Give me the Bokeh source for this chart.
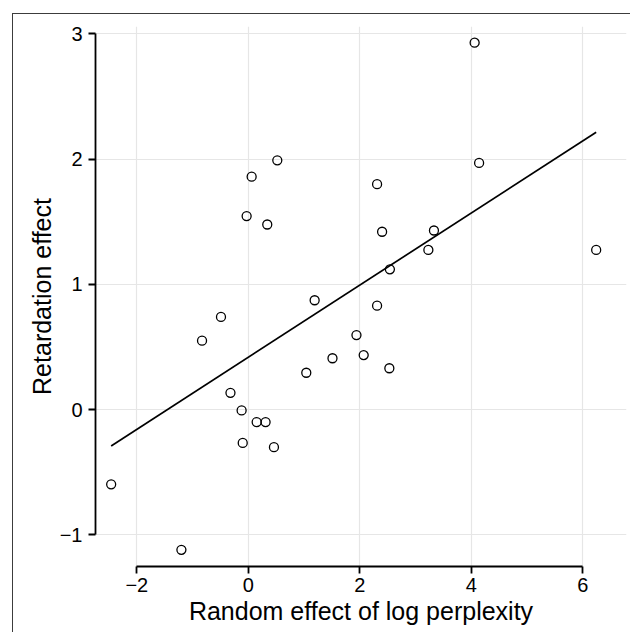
from bokeh.plotting import figure
from bokeh.models import FixedTicker, Range1d
from bokeh.embed import file_html
from bokeh.resources import INLINE
import numpy as np

# Data
perplexity_effect = [0.52, 0.06, -0.03, 0.34, 4.06, 4.14, 2.31, 2.40, 3.33, 3.23,
                     2.54, 6.24, 1.19, -0.49, -0.83, 1.94, 1.51, 2.07, 1.04, -0.32,
                     -0.12, 0.15, 0.31, -0.10, 0.46, -2.46, -1.20, 2.31, 2.53]
retardation_effect = [1.99, 1.86, 1.545, 1.478, 2.93, 1.97, 1.80, 1.42, 1.43, 1.275,
                      1.12, 1.275, 0.873, 0.74, 0.55, 0.595, 0.41, 0.435, 0.294, 0.134,
                      -0.007, -0.10, -0.10, -0.266, -0.30, -0.597, -1.12, 0.83, 0.33]
fit_intercept = 0.418
fit_slope = 0.288

x_ticks = [-2, 0, 2, 4, 6]
x_tick_labels = ["\u22122", "0", "2", "4", "6"]
y_ticks = [-1, 0, 1, 2, 3]
y_tick_labels = ["\u22121", "0", "1", "2", "3"]

FONT = "Liberation Sans"

p = figure(width=618, height=619, output_backend="svg", toolbar_location=None,
           x_range=Range1d(-2.741, 6.784), y_range=Range1d(-1.253, 3.059),
           min_border_left=82, min_border_top=12, min_border_right=5, min_border_bottom=67,
           margin=(13, 0, 0, 12),
           styles={"border-left": "1.5px solid #3c3c3c", "border-top": "1.5px solid #3c3c3c"})
p.outline_line_color = None
p.background_fill_color = "white"
p.border_fill_color = "white"

# grid
p.xgrid.ticker = FixedTicker(ticks=x_ticks)
p.ygrid.ticker = FixedTicker(ticks=y_ticks)
for g in (p.xgrid, p.ygrid):
    g.grid_line_color = "#e6e6e6"
    g.grid_line_width = 1.2

# axes
p.xaxis.ticker = FixedTicker(ticks=x_ticks)
p.yaxis.ticker = FixedTicker(ticks=y_ticks)
p.xaxis.major_label_overrides = dict(zip(x_ticks, x_tick_labels))
p.yaxis.major_label_overrides = dict(zip(y_ticks, y_tick_labels))
p.xaxis.bounds = (x_ticks[0], x_ticks[-1])
p.yaxis.bounds = (y_ticks[0], y_ticks[-1])
p.xaxis.axis_label = "Random effect of log perplexity"
p.yaxis.axis_label = "Retardation effect"
for ax in (p.xaxis, p.yaxis):
    ax.axis_line_color = "black"
    ax.axis_line_width = 1.8
    ax.major_tick_line_color = "black"
    ax.major_tick_line_width = 1.8
    ax.major_tick_out = 7
    ax.major_tick_in = 0
    ax.minor_tick_line_color = None
    ax.major_label_text_font = FONT
    ax.major_label_text_font_size = "20px"
    ax.major_label_text_color = "black"
    ax.axis_label_text_font = FONT
    ax.axis_label_text_font_size = "25px"
    ax.axis_label_text_font_style = "normal"
    ax.axis_label_text_color = "black"
p.xaxis.major_label_standoff = 4
p.xaxis.axis_label_standoff = 2
p.yaxis.major_label_standoff = 6
p.yaxis.axis_label_standoff = 1
p.yaxis.major_label_orientation = "horizontal"

# regression line across the data range
xs = np.array([min(perplexity_effect), max(perplexity_effect)])
p.line(xs, fit_intercept + fit_slope * xs, line_color="black", line_width=1.7)

# points
p.scatter(perplexity_effect, retardation_effect, marker="circle", size=9,
          fill_color=None, line_color="black", line_width=1.3)

open("out.html", "w").write(file_html(p, INLINE))
